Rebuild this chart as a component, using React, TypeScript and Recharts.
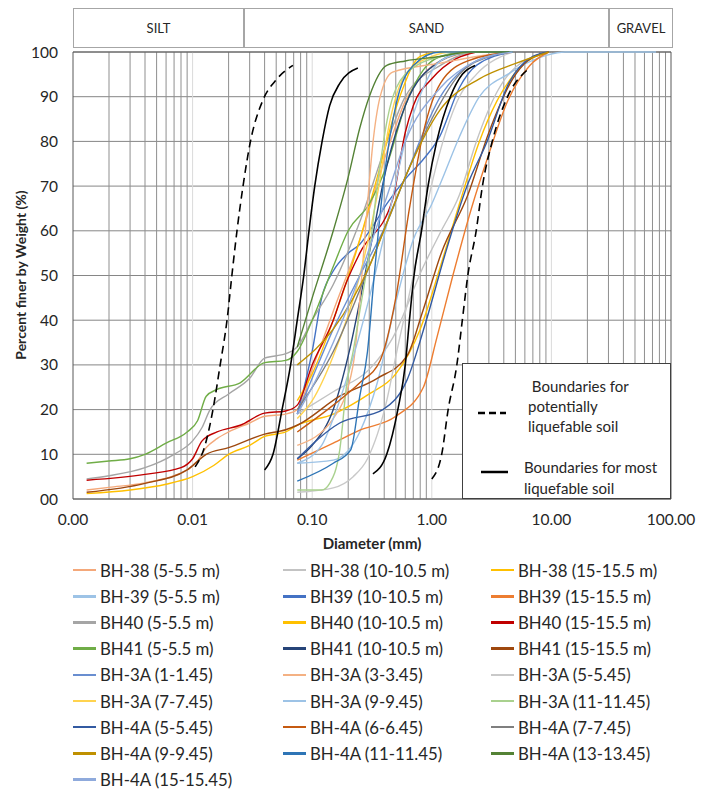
import React from "react";
import { LineChart, Line, XAxis, YAxis, CartesianGrid, ReferenceLine } from "recharts";

type Pt = [number, number];

// diameter (mm), percent finer (%)
const BH38_5: Pt[] = [[0.0013, 2], [0.002, 2.6], [0.004, 3.6], [0.007, 5.2], [0.009, 6.5], [0.011, 8.5], [0.013, 11.5], [0.016, 13.5], [0.02, 15], [0.03, 17], [0.04, 18.5], [0.06, 19], [0.075, 20], [0.1, 29], [0.15, 42], [0.25, 58], [0.425, 78], [0.6, 89], [0.85, 95], [1.18, 98], [2.36, 100], [4.75, 100]];
const BH38_10: Pt[] = [[0.075, 19], [0.15, 24], [0.3, 29], [0.47, 36], [0.85, 52], [1.2, 60], [1.7, 68], [2.36, 80], [3.5, 91], [4.75, 96], [9.5, 100]];
const BH38_15: Pt[] = [[0.0013, 1.2], [0.003, 2], [0.006, 3.3], [0.01, 5], [0.015, 7.5], [0.02, 10], [0.03, 12], [0.04, 14], [0.06, 15], [0.075, 16.5], [0.15, 19], [0.3, 23.5], [0.5, 28], [0.8, 38], [1.18, 52], [1.7, 66], [2.5, 80], [3.5, 89], [5.5, 96.6], [9.5, 100]];
const BH39_5: Pt[] = [[0.075, 8], [0.15, 8.7], [0.25, 15], [0.35, 26], [0.5, 44], [0.7, 58], [1.0, 66], [1.24, 72], [1.7, 81], [2.5, 90], [4.3, 95], [9.2, 99.3], [13, 100], [75, 100]];
const BH39_10: Pt[] = [[0.075, 19], [0.1, 33], [0.12, 45], [0.15, 51], [0.2, 55], [0.25, 57], [0.32, 61], [0.42, 66], [0.62, 72], [0.85, 76], [1.16, 81], [1.7, 92], [2.36, 97], [4.75, 100]];
const BH39_15: Pt[] = [[0.075, 8.7], [0.15, 12.5], [0.25, 15.4], [0.5, 18.5], [0.85, 25], [1.1, 36], [1.5, 50], [2.2, 66], [2.9, 76], [4.3, 89], [6.6, 97], [9.5, 100]];
const BH40_5: Pt[] = [[0.0013, 4.5], [0.002, 5.2], [0.004, 7], [0.007, 10], [0.01, 13], [0.012, 16], [0.014, 20], [0.02, 23.5], [0.03, 27], [0.04, 31.5], [0.06, 32.5], [0.075, 34], [0.1, 40], [0.15, 48], [0.25, 62], [0.425, 80], [0.6, 90], [1.18, 97], [2.36, 100], [4.75, 100]];
const BH40_10: Pt[] = [[0.075, 22], [0.1, 28], [0.15, 40], [0.25, 58], [0.35, 72], [0.54, 90], [0.8, 99], [1.18, 100], [4.75, 100]];
const BH40_15: Pt[] = [[0.0013, 4.2], [0.004, 5.5], [0.008, 7], [0.01, 9], [0.012, 13], [0.016, 15], [0.025, 16.5], [0.04, 19.2], [0.06, 19.7], [0.075, 21], [0.1, 30], [0.15, 40], [0.19, 48], [0.25, 55], [0.47, 67], [0.6, 82], [0.7, 88], [1.0, 94], [1.6, 98.5], [2.36, 100]];
const BH41_5: Pt[] = [[0.0013, 8], [0.002, 8.5], [0.003, 9], [0.004, 10], [0.006, 12.5], [0.009, 15], [0.011, 17.5], [0.013, 23], [0.016, 24.5], [0.025, 26], [0.04, 30.5], [0.06, 31], [0.075, 33], [0.1, 40], [0.15, 52], [0.2, 60], [0.3, 66], [0.425, 75], [0.6, 88], [0.85, 96], [1.18, 99], [2, 100], [4.75, 100]];
const BH41_10: Pt[] = [[0.075, 9], [0.1, 12], [0.15, 20], [0.2, 32], [0.3, 55], [0.425, 75], [0.6, 88], [1.18, 98], [2, 100]];
const BH41_15: Pt[] = [[0.0013, 1.5], [0.004, 3.5], [0.009, 6.5], [0.013, 10], [0.02, 11.5], [0.04, 14.5], [0.06, 15.5], [0.075, 16.5], [0.17, 23], [0.35, 27], [0.62, 32], [0.84, 42], [1.2, 55], [2, 68], [3, 82], [4.75, 94], [6.3, 98], [9.5, 100]];
const BH3A_1: Pt[] = [[0.075, 19], [0.1, 27], [0.15, 38], [0.25, 50], [0.425, 62], [0.6, 72], [1.18, 90], [2.36, 98], [4.75, 100]];
const BH3A_3: Pt[] = [[0.075, 12], [0.15, 18], [0.22, 30], [0.26, 50], [0.29, 66], [0.32, 79], [0.37, 90], [0.47, 95.5], [1.18, 97.5], [2.36, 99], [4.75, 100]];
const BH3A_5: Pt[] = [[0.075, 1.5], [0.15, 2.5], [0.22, 5], [0.29, 9], [0.42, 22], [0.51, 33], [0.7, 50], [0.9, 65], [1.18, 78], [1.7, 90], [2.36, 95], [4.75, 100]];
const BH3A_7: Pt[] = [[0.075, 18], [0.1, 22], [0.15, 32], [0.25, 50], [0.35, 68], [0.45, 85], [0.6, 95], [1.0, 99], [1.5, 100], [4.75, 100]];
const BH3A_9: Pt[] = [[0.075, 8], [0.12, 12], [0.15, 18], [0.2, 28], [0.3, 45], [0.425, 62], [0.6, 80], [0.85, 92], [1.18, 98], [2, 100]];
const BH3A_11: Pt[] = [[0.075, 2], [0.12, 2], [0.14, 3.5], [0.17, 11], [0.195, 26], [0.22, 33], [0.25, 42], [0.3, 55], [0.35, 70], [0.425, 85], [0.6, 95], [1.18, 99], [2.36, 100]];
const BH4A_5: Pt[] = [[0.075, 9], [0.17, 17], [0.39, 20], [0.62, 26.6], [0.9, 40], [1.3, 55], [1.97, 70], [2.9, 80], [4.4, 93], [7, 99], [9.5, 100]];
const BH4A_6: Pt[] = [[0.075, 15], [0.15, 21], [0.25, 26], [0.37, 31], [0.5, 45], [0.65, 65], [0.85, 82], [1.18, 93], [2, 98], [4.75, 100]];
const BH4A_7: Pt[] = [[0.075, 20], [0.15, 33], [0.3, 52], [0.6, 72], [1.0, 85], [1.7, 95], [3, 99], [4.75, 100]];
const BH4A_9: Pt[] = [[0.075, 30], [0.15, 38], [0.3, 52], [0.425, 62], [0.6, 72], [1.17, 87], [2.5, 94], [5.1, 97.5], [9.5, 100]];
const BH4A_11: Pt[] = [[0.075, 4], [0.15, 8], [0.21, 11], [0.25, 23], [0.29, 33], [0.33, 50], [0.4, 72], [0.5, 88], [0.7, 97], [1.18, 100], [4.75, 100]];
const BH4A_13: Pt[] = [[0.075, 34], [0.1, 45], [0.15, 60], [0.2, 72], [0.25, 83], [0.3, 90], [0.42, 97], [0.6, 98], [1.18, 99], [2, 100], [4.75, 100]];
const BH4A_15: Pt[] = [[0.075, 19], [0.1, 25], [0.15, 35], [0.25, 50], [0.425, 68], [0.6, 80], [1.18, 92], [2.36, 98], [4.75, 100]];

// liquefaction boundaries
const POT_FINE: Pt[] = [[0.0105, 7.2], [0.0127, 12], [0.0148, 20], [0.017, 30], [0.0194, 40], [0.0213, 50], [0.0235, 60], [0.0264, 70], [0.0302, 79.5], [0.0388, 89.3], [0.049, 93.5], [0.069, 97]];
const POT_COARSE: Pt[] = [[1.0, 4.5], [1.21, 10], [1.37, 20], [1.62, 30], [1.8, 40], [2.0, 50], [2.35, 60], [2.65, 70], [3.2, 80], [4.3, 90], [6.3, 96]];
const MOST_FINE: Pt[] = [[0.04, 6.5], [0.047, 10], [0.056, 20], [0.066, 30], [0.075, 40], [0.085, 50], [0.094, 60], [0.105, 70], [0.121, 80], [0.14, 88], [0.17, 93], [0.241, 96.4]];
const MOST_COARSE: Pt[] = [[0.322, 5.6], [0.42, 10], [0.52, 20], [0.6, 30], [0.65, 40], [0.71, 50], [0.82, 60], [0.93, 70], [1.1, 80], [1.43, 90], [1.8, 95], [2.3, 97]];

const NAMES = [
  "BH-38 (5-5.5 m)", "BH-38 (10-10.5 m)", "BH-38 (15-15.5 m)",
  "BH-39 (5-5.5 m)", "BH39 (10-10.5 m)", "BH39 (15-15.5 m)",
  "BH40 (5-5.5 m)", "BH40 (10-10.5 m)", "BH40 (15-15.5 m)",
  "BH41 (5-5.5 m)", "BH41 (10-10.5 m)", "BH41 (15-15.5 m)",
  "BH-3A (1-1.45)", "BH-3A (3-3.45)", "BH-3A (5-5.45)",
  "BH-3A (7-7.45)", "BH-3A (9-9.45)", "BH-3A (11-11.45)",
  "BH-4A (5-5.45)", "BH-4A (6-6.45)", "BH-4A (7-7.45)",
  "BH-4A (9-9.45)", "BH-4A (11-11.45)", "BH-4A (13-13.45)",
  "BH-4A (15-15.45)",
];
const COLORS = [
  "#F4A87A", "#C3C3C3", "#FFC000",
  "#9DC3E6", "#4472C4", "#ED7D31",
  "#A5A5A5", "#FFC000", "#C00000",
  "#70AD47", "#264478", "#9E480E",
  "#698ED0", "#F4B183", "#C9C9C9",
  "#FFD34F", "#9DC3E6", "#A9D18E",
  "#335AA1", "#C55A11", "#7F7F7F",
  "#BF9000", "#2E75B6", "#548235",
  "#8FAADC",
];
const VALUES = [
  BH38_5, BH38_10, BH38_15, BH39_5, BH39_10, BH39_15, BH40_5, BH40_10, BH40_15,
  BH41_5, BH41_10, BH41_15, BH3A_1, BH3A_3, BH3A_5, BH3A_7, BH3A_9, BH3A_11,
  BH4A_5, BH4A_6, BH4A_7, BH4A_9, BH4A_11, BH4A_13, BH4A_15,
];

const X_TICKS = [0.001, 0.01, 0.1, 1, 10, 100];
const Y_TICKS = [0, 10, 20, 30, 40, 50, 60, 70, 80, 90, 100];

const FONT = "Lato, 'Open Sans', sans-serif";
const TEXT = "#262626";

const rows = (pts: Pt[]) => pts.map(([d, p]) => ({ d, p }));

const minorLines = X_TICKS.slice(0, -1).flatMap((b) =>
  [2, 3, 4, 5, 6, 7, 8, 9].map((k) => Number((k * b).toPrecision(3)))
);

const headerBox = (left: number, width: number, label: string) => (
  <div
    style={{
      position: "absolute",
      left,
      top: 0,
      width,
      height: 40,
      boxSizing: "border-box",
      border: "1px solid #a6a6a6",
      display: "flex",
      alignItems: "center",
      justifyContent: "center",
      fontSize: 13,
      color: TEXT,
    }}
  >
    {label}
  </div>
);

export default function App() {
  return (
    <div style={{ position: "relative", width: 700, height: 783, fontFamily: FONT, background: "#fff" }}>
      {headerBox(65, 171, "SILT")}
      {headerBox(236, 365, "SAND")}
      {headerBox(601, 64, "GRAVEL")}

      <LineChart width={700} height={545} margin={{ top: 44, right: 37, left: 25, bottom: 24 }}>
        <CartesianGrid vertical={false} stroke="#868686" />
        {minorLines.map((v) => (
          <ReferenceLine key={"m" + v} x={v} stroke="#8f8f8f" />
        ))}
        {X_TICKS.slice(1, -1).map((v) => (
          <ReferenceLine key={"d" + v} x={v} stroke="#dadada" />
        ))}
        <ReferenceLine y={100} stroke="#595959" />
        <ReferenceLine x={100} stroke="#595959" />
        <XAxis
          dataKey="d"
          type="number"
          scale="log"
          domain={[0.001, 100]}
          ticks={X_TICKS}
          allowDataOverflow
          tickFormatter={(v: number) => v.toFixed(2)}
          tickLine={false}
          tickSize={0}
          tickMargin={15}
          axisLine={{ stroke: "#595959" }}
          tick={{ fontSize: 15.5, fill: TEXT, fontFamily: FONT }}
          height={30}
        />
        <YAxis
          type="number"
          domain={[0, 100]}
          ticks={Y_TICKS}
          tickFormatter={(v: number) => (v === 0 ? "00" : String(v))}
          tickLine={false}
          tickSize={0}
          tickMargin={15}
          axisLine={{ stroke: "#595959" }}
          tick={{ fontSize: 15.5, fill: TEXT, fontFamily: FONT }}
          width={40}
        />
        {VALUES.map((pts, i) => (
          <Line
            key={NAMES[i]}
            name={NAMES[i]}
            data={rows(pts)}
            dataKey="p"
            type="monotone"
            stroke={COLORS[i]}
            strokeWidth={1.4}
            dot={false}
            activeDot={false}
            isAnimationActive={false}
          />
        ))}
        {[POT_FINE, POT_COARSE].map((pts, i) => (
          <Line key={"pot" + i} data={rows(pts)} dataKey="p" type="monotone" stroke="#000" strokeWidth={1.6} strokeDasharray="8 5" dot={false} activeDot={false} isAnimationActive={false} />
        ))}
        {[MOST_FINE, MOST_COARSE].map((pts, i) => (
          <Line key={"most" + i} data={rows(pts)} dataKey="p" type="monotone" stroke="#000" strokeWidth={1.6} dot={false} activeDot={false} isAnimationActive={false} />
        ))}
      </LineChart>

      {/* axis titles */}
      <div
        style={{
          position: "absolute",
          left: 12,
          top: 267,
          transform: "translate(-50%, -50%) rotate(-90deg)",
          whiteSpace: "nowrap",
          fontSize: 14,
          fontWeight: 700,
          color: TEXT,
        }}
      >
        Percent finer by Weight (%)
      </div>
      <div
        style={{
          position: "absolute",
          left: 364,
          top: 535,
          transform: "translate(-50%, -50%)",
          whiteSpace: "nowrap",
          fontSize: 15,
          fontWeight: 700,
          color: TEXT,
        }}
      >
        Diameter (mm)
      </div>

      {/* boundary legend */}
      <div
        style={{
          position: "absolute",
          left: 454,
          top: 355,
          width: 209,
          height: 136,
          boxSizing: "border-box",
          border: "1px solid #404040",
          background: "#fff",
          fontSize: 15,
          color: TEXT,
        }}
      >
        <svg width={40} height={10} style={{ position: "absolute", left: 15, top: 44 }}>
          <line x1={0} y1={5} x2={28} y2={5} stroke="#000" strokeWidth={2.5} strokeDasharray="7 4" />
        </svg>
        <div style={{ position: "absolute", left: 65, top: 12, lineHeight: "20px" }}>
          &nbsp;Boundaries for
          <br />
          potentially
          <br />
          liquefable soil
        </div>
        <svg width={40} height={10} style={{ position: "absolute", left: 18, top: 103 }}>
          <line x1={0} y1={5} x2={27} y2={5} stroke="#000" strokeWidth={2.5} />
        </svg>
        <div style={{ position: "absolute", left: 61, top: 93, lineHeight: "21px" }}>
          Boundaries for most
          <br />
          liquefable soil
        </div>
      </div>

      {/* series legend */}
      <div
        style={{
          position: "absolute",
          left: 65,
          top: 549,
          display: "grid",
          gridTemplateColumns: "210px 208px 190px",
          gridAutoRows: "26.2px",
          fontSize: 16.8,
          color: TEXT,
        }}
      >
        {NAMES.map((n, i) => (
          <div key={n} style={{ display: "flex", alignItems: "center", whiteSpace: "nowrap" }}>
            <span style={{ display: "inline-block", width: 23, height: 2.5, background: COLORS[i], marginRight: 4 }} />
            {n}
          </div>
        ))}
      </div>
    </div>
  );
}
